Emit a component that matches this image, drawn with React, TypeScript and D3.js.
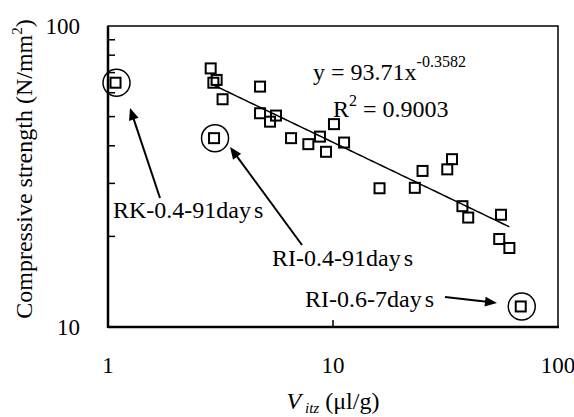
import React from "react";
import * as d3 from "d3";

const W = 574;
const H = 417;

// Main data series: V_itz (µl/g) vs compressive strength (N/mm²)
const vitz = [2.86, 3.04, 2.94, 3.23, 4.74, 4.74, 5.25, 5.58, 6.51, 7.77, 8.75, 9.31, 10.1, 11.2, 16.1, 25.0, 23.1, 32.2, 33.8, 37.6, 39.9, 55.8, 54.8, 60.8];
const strength = [72.3, 66.2, 64.8, 57.1, 62.9, 51.3, 48.1, 50.4, 42.4, 40.5, 42.9, 38.2, 47.2, 41.0, 28.9, 33.0, 29.0, 33.4, 36.1, 25.2, 23.1, 23.6, 19.6, 18.3];

// Circled outliers
const outlierLabels = ["RK-0.4-91day", "RI-0.4-91day", "RI-0.6-7day"];
const outlierVitz = [1.08, 2.96, 68.3];
const outlierStrength = [64.8, 42.4, 11.7];

// Power trend: y = a x^b
const trendA = 93.71;
const trendB = -0.3582;

const xTickValues = [1, 10, 100];
const yTickValues = [10, 100];
const yMinorTicks = [20, 30, 40, 50, 60, 70, 80, 90];

const left = 108, right = 558, top = 26, bottom = 327;

export default function App() {
  const x = d3.scaleLog().domain([1, 100]).range([left, right]);
  const y = d3.scaleLog().domain([10, 100]).range([bottom, top]);

  const xMin = d3.min(vitz) as number;
  const xMax = d3.max(vitz) as number;
  const trendPts = d3.range(0, 101).map((i) => {
    const xv = Math.exp(Math.log(xMin) + (Math.log(xMax) - Math.log(xMin)) * (i / 100));
    return [xv, trendA * Math.pow(xv, trendB)] as [number, number];
  });
  const line = d3.line<[number, number]>().x((d) => x(d[0])).y((d) => y(d[1]));

  const font = "'Liberation Serif', 'Times New Roman', serif";
  const sq = 10;

  const arrows = [
    [160, 198, 130, 108],
    [302, 245, 230, 147],
    [445, 297, 497, 303],
  ];
  const labelPos = [
    [113, 218],
    [272, 266],
    [305, 307],
  ];

  const arrowHead = (a: number[]) => {
    const [x1, y1, x2, y2] = a;
    const ang = Math.atan2(y2 - y1, x2 - x1);
    const L = 12, Wd = 5;
    const bx = x2 - L * Math.cos(ang), by = y2 - L * Math.sin(ang);
    const px = -Math.sin(ang) * Wd, py = Math.cos(ang) * Wd;
    return `M${x2},${y2}L${bx + px},${by + py}L${bx - px},${by - py}Z`;
  };

  return (
    <svg width={W} height={H} style={{ position: "absolute", left: 0, top: 0, background: "#fff" }} fontFamily={font}>
      <rect x={0} y={0} width={W} height={H} fill="#fff" />
      {/* frame */}
      <rect x={left} y={top} width={right - left} height={bottom - top} fill="none" stroke="#000" strokeWidth={1.5} />
      <line x1={left} y1={top} x2={left} y2={bottom + 1} stroke="#000" strokeWidth={2.5} />
      <line x1={left} y1={bottom} x2={right + 1} y2={bottom} stroke="#000" strokeWidth={2.5} />
      {/* minor y ticks */}
      {yMinorTicks.map((t) => (
        <line key={t} x1={left} x2={left + 7} y1={y(t)} y2={y(t)} stroke="#000" strokeWidth={1.5} />
      ))}
      {/* x tick at 10 */}
      {xTickValues.filter((t) => t > 1 && t < 100).map((t) => (
        <line key={t} x1={x(t)} x2={x(t)} y1={bottom} y2={bottom - 7} stroke="#000" strokeWidth={1.5} />
      ))}
      {/* tick labels */}
      {yTickValues.map((t) => (
        <text key={t} x={80} y={y(t)} dy="0.35em" textAnchor="end" fontSize={23}>{t}</text>
      ))}
      {xTickValues.map((t) => (
        <text key={t} x={x(t)} y={365} dy="0.35em" textAnchor="middle" fontSize={23}>{t}</text>
      ))}
      {/* axis titles */}
      <text transform={`translate(32,169) rotate(-90)`} textAnchor="middle" fontSize={24}>
        Compressive strength (N/mm<tspan dy={-10} fontSize={15}>2</tspan><tspan dy={10}>)</tspan>
      </text>
      <text x={333} y={409} textAnchor="middle" fontSize={24}>
        <tspan fontStyle="italic">V</tspan>
        <tspan fontStyle="italic" fontSize={15} dy={4}> itz</tspan>
        <tspan dy={-4}> (μl/g)</tspan>
      </text>
      {/* trend line */}
      <path d={line(trendPts) || ""} fill="none" stroke="#000" strokeWidth={1.5} />
      {/* data squares */}
      {vitz.map((v, i) => (
        <rect key={i} x={x(v) - sq / 2} y={y(strength[i]) - sq / 2} width={sq} height={sq} fill="none" stroke="#000" strokeWidth={2} />
      ))}
      {outlierVitz.map((v, i) => (
        <g key={i}>
          <rect x={x(v) - sq / 2} y={y(outlierStrength[i]) - sq / 2} width={sq} height={sq} fill="none" stroke="#000" strokeWidth={2} />
          <circle cx={x(v) + 1} cy={y(outlierStrength[i])} r={13.5} fill="none" stroke="#000" strokeWidth={1.5} />
        </g>
      ))}
      {/* equation */}
      <text x={313} y={80} fontSize={24}>
        y = 93.71x<tspan dy={-13} fontSize={16}>{"-0.3582"}</tspan>
      </text>
      <text x={333} y={117} fontSize={24}>
        R<tspan dy={-11} fontSize={16}>2</tspan><tspan dy={11}> = 0.9003</tspan>
      </text>
      {/* annotations */}
      {arrows.map((a, i) => {
        const ang = Math.atan2(a[3] - a[1], a[2] - a[0]);
        return (
          <g key={i}>
            <line x1={a[0]} y1={a[1]} x2={a[2] - 8 * Math.cos(ang)} y2={a[3] - 8 * Math.sin(ang)} stroke="#000" strokeWidth={2} />
            <path d={arrowHead(a)} fill="#000" />
          </g>
        );
      })}
      {outlierLabels.map((l, i) => (
        <text key={l} x={labelPos[i][0]} y={labelPos[i][1]} fontSize={24}>
          {l}<tspan dx={3}>s</tspan>
        </text>
      ))}
    </svg>
  );
}
